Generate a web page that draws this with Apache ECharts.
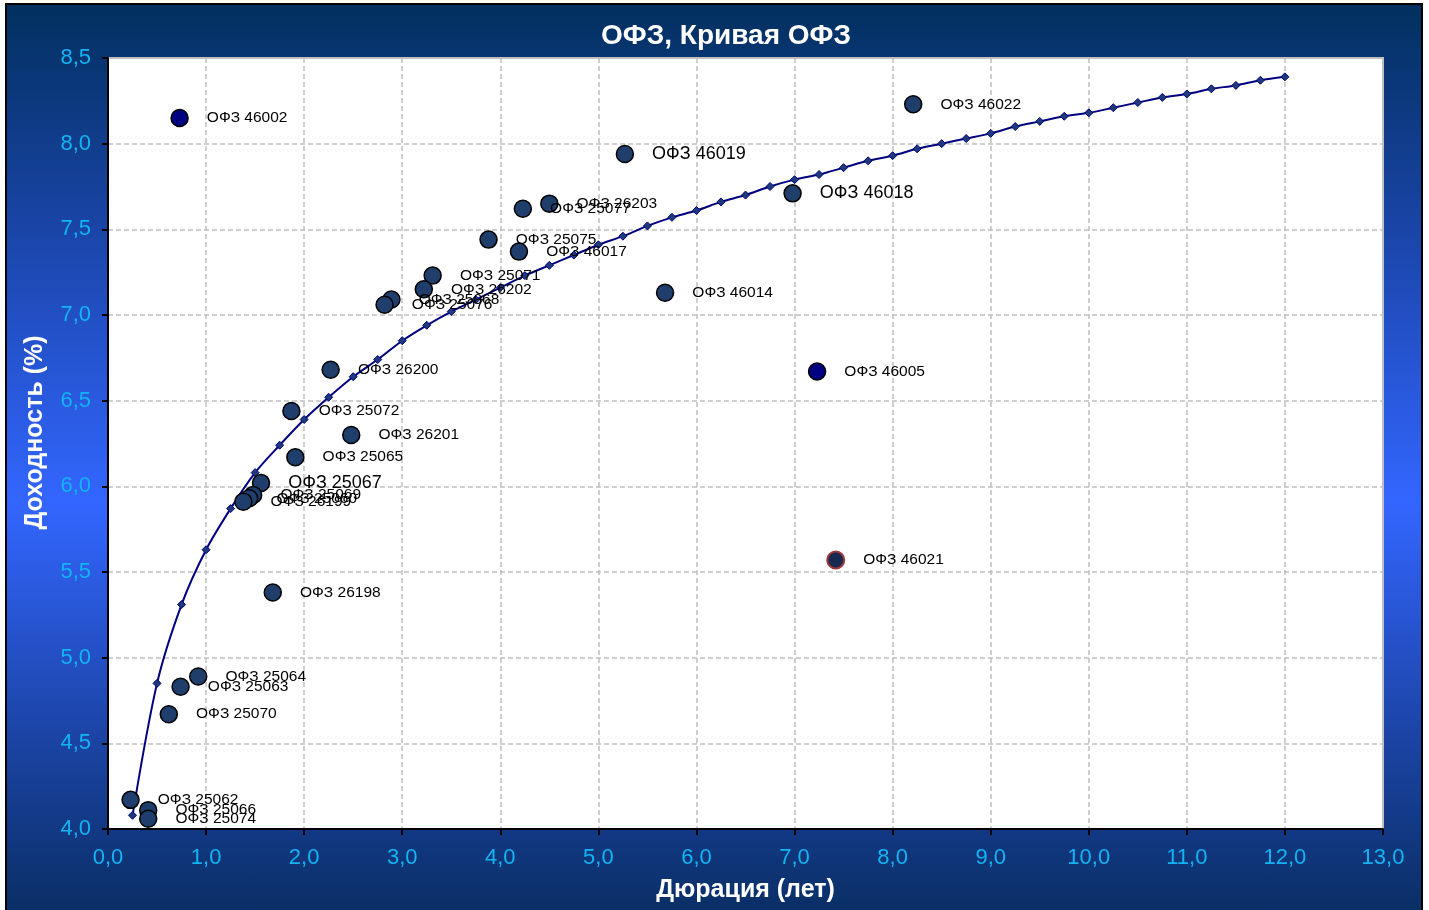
<!DOCTYPE html>
<html>
<head>
<meta charset="utf-8">
<script src="https://cdn.jsdelivr.net/npm/echarts@6/dist/echarts.min.js"></script>
<style>
  html, body { margin: 0; padding: 0; background: #fff; overflow: hidden; width: 1429px; height: 910px; }
  .frame {
    position: absolute; left: 5px; top: 3px; width: 1418px; height: 907px;
    box-sizing: border-box; border: 2px solid #000; border-bottom: none;
    background: linear-gradient(to bottom, #02305f 0%, #1a45a8 25%, #3366ff 55%, #1c45a8 80%, #0a2f66 100%);
  }
  #chart { position: absolute; left: 0; top: 0; width: 1429px; height: 910px; }
</style>
</head>
<body>
<div class="frame"></div>
<div id="chart"></div>
<script>
// кривая ОФЗ
const curveX = [0.25, 0.5, 0.75, 1.0, 1.25, 1.5, 1.75, 2.0, 2.25, 2.5, 2.75, 3.0,
  3.25, 3.5, 3.75, 4.0, 4.25, 4.5, 4.75, 5.0, 5.25, 5.5, 5.75, 6.0,
  6.25, 6.5, 6.75, 7.0, 7.25, 7.5, 7.75, 8.0, 8.25, 8.5, 8.75, 9.0,
  9.25, 9.5, 9.75, 10.0, 10.25, 10.5, 10.75, 11.0, 11.25, 11.5, 11.75, 12.0];
const curveY = [4.08, 4.85, 5.31, 5.63, 5.87, 6.08, 6.24, 6.39, 6.52, 6.64, 6.74, 6.85,
  6.94, 7.02, 7.09, 7.16, 7.23, 7.29, 7.35, 7.41, 7.46, 7.52, 7.57, 7.61,
  7.66, 7.70, 7.75, 7.79, 7.82, 7.86, 7.90, 7.93, 7.97, 8.00, 8.03, 8.06,
  8.10, 8.13, 8.16, 8.18, 8.21, 8.24, 8.27, 8.29, 8.32, 8.34, 8.37, 8.39];

// выпуски
const bondNames = ["ОФЗ 46002", "ОФЗ 46022", "ОФЗ 46019", "ОФЗ 46018", "ОФЗ 26203", "ОФЗ 25077",
  "ОФЗ 25075", "ОФЗ 46017", "ОФЗ 25071", "ОФЗ 26202", "ОФЗ 25068", "ОФЗ 25076",
  "ОФЗ 46014", "ОФЗ 26200", "ОФЗ 46005", "ОФЗ 25072", "ОФЗ 26201", "ОФЗ 25065",
  "ОФЗ 25067", "ОФЗ 25069", "ОФЗ 25060", "ОФЗ 26199", "ОФЗ 26198", "ОФЗ 46021",
  "ОФЗ 25064", "ОФЗ 25063", "ОФЗ 25070", "ОФЗ 25062", "ОФЗ 25066", "ОФЗ 25074"];
const bondDur = [0.73, 8.21, 5.27, 6.98, 4.50, 4.23,
  3.88, 4.19, 3.31, 3.22, 2.89, 2.82,
  5.68, 2.27, 7.23, 1.87, 2.48, 1.91,
  1.56, 1.48, 1.44, 1.38, 1.68, 7.42,
  0.92, 0.74, 0.62, 0.23, 0.41, 0.41];
const bondYield = [8.15, 8.23, 7.94, 7.71, 7.65, 7.62,
  7.44, 7.37, 7.23, 7.15, 7.09, 7.06,
  7.13, 6.68, 6.67, 6.44, 6.30, 6.17,
  6.02, 5.95, 5.93, 5.91, 5.38, 5.57,
  4.89, 4.83, 4.67, 4.17, 4.11, 4.06];
const bigLabels = ["ОФЗ 46019", "ОФЗ 46018", "ОФЗ 25067"];
const navyBonds = ["ОФЗ 46002", "ОФЗ 46005"];

const chart = echarts.init(document.getElementById("chart"));

const fmt = (v) => v.toFixed(1).replace(".", ",");
const font = "Liberation Sans, Arial, sans-serif";

const bondData = bondNames.map((name, i) => {
  const item = { value: [bondDur[i], bondYield[i]], name: name };
  if (navyBonds.includes(name)) {
    item.itemStyle = { color: "#000080" };
  }
  if (name === "ОФЗ 46021") {
    item.itemStyle = { color: "#172b52", borderColor: "#a0383a", borderWidth: 2 };
  }
  if (bigLabels.includes(name)) {
    item.label = { fontSize: 18 };
  }
  return item;
});

const option = {
  backgroundColor: "transparent",
  animation: false,
  title: {
    text: "ОФЗ, Кривая ОФЗ",
    left: 721,
    top: 17,
    textAlign: "center",
    textStyle: { color: "#fff", fontSize: 28, fontWeight: "bold", fontFamily: font }
  },
  grid: {
    left: 108, top: 58, right: 46, bottom: 81,
    show: true,
    backgroundColor: "#fff",
    borderColor: "#c0c0c0",
    borderWidth: 2
  },
  xAxis: {
    type: "value",
    min: 0, max: 13, interval: 1,
    name: "Дюрация (лет)",
    nameLocation: "middle",
    nameGap: 49,
    nameTextStyle: { color: "#fff", fontSize: 25, fontWeight: "bold", fontFamily: font },
    axisLine: { onZero: false, lineStyle: { color: "#000", width: 2 } },
    axisTick: { show: true, length: 6, lineStyle: { color: "#000", width: 2 } },
    axisLabel: { color: "#12b4f5", fontSize: 22, margin: 18, formatter: fmt, fontFamily: font },
    splitLine: { show: true, lineStyle: { color: "#c0c0c0", type: [5, 3], width: 1.5 } }
  },
  yAxis: {
    type: "value",
    min: 4, max: 8.5, interval: 0.5,
    name: "Доходность (%)",
    nameLocation: "middle",
    nameGap: 60,
    nameTextStyle: { color: "#fff", fontSize: 25, fontWeight: "bold", fontFamily: font, padding: [0, 0, 0, 22] },
    axisLine: { onZero: false, lineStyle: { color: "#000", width: 2 } },
    axisTick: { show: true, length: 6, lineStyle: { color: "#000", width: 2 } },
    axisLabel: { color: "#12b4f5", fontSize: 22, margin: 17, formatter: fmt, fontFamily: font },
    splitLine: { show: true, lineStyle: { color: "#c0c0c0", type: [5, 3], width: 1.5 } }
  },
  series: [
    {
      name: "Кривая ОФЗ",
      type: "line",
      data: curveX.map((x, i) => [x, curveY[i]]),
      smooth: 0.3,
      symbol: "diamond",
      symbolSize: 8,
      itemStyle: { color: "#1f3a78", borderColor: "#000080", borderWidth: 1 },
      lineStyle: { color: "#000080", width: 2 },
      z: 2
    },
    {
      name: "ОФЗ",
      type: "scatter",
      data: bondData,
      symbolSize: 17,
      itemStyle: { color: "#1f3e6c", borderColor: "#000", borderWidth: 1.5, opacity: 1 },
      label: {
        show: true,
        position: "right",
        distance: 18,
        formatter: "{b}",
        color: "#000",
        fontSize: 15.5,
        fontFamily: font
      },
      z: 3
    }
  ]
};

chart.setOption(option);
</script>
</body>
</html>
